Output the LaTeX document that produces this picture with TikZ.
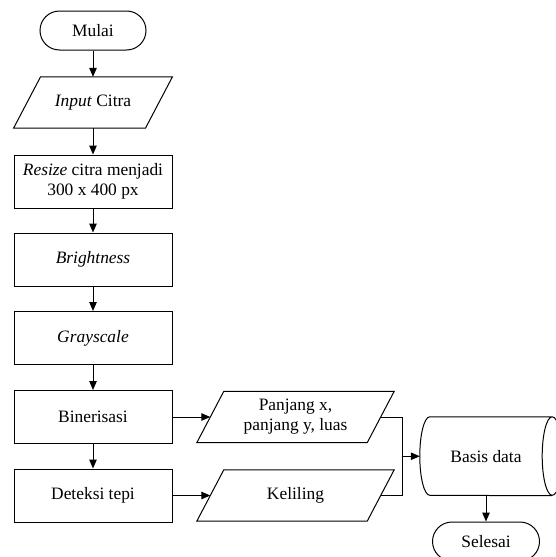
\documentclass[tikz,border=0pt]{standalone}
\usepackage{fontspec}
\setmainfont{Liberation Serif}
\usetikzlibrary{shapes.misc,arrows.meta}

% parallelogram outline drawn around a borderless node
\newcommand\ioshape[1]{%
  \draw[line] ([xshift=13.5pt]#1.north west) -- ([xshift=13.5pt]#1.north east)
    -- ([xshift=-13.5pt]#1.south east) -- ([xshift=-13.5pt]#1.south west) -- cycle;}

\begin{document}
\begin{tikzpicture}[x=1pt,y=-1pt,
  every node/.style={font=\fontsize{17.4}{20}\selectfont, inner sep=0pt, align=center},
  line/.style={line width=1pt},
  terminal/.style={rounded rectangle, draw, line width=1pt, minimum width=106pt, minimum height=39pt},
  process/.style={rectangle, draw, line width=1pt, minimum width=158pt, minimum height=53pt},
  iobody/.style={minimum height=51pt},
  flow/.style={line width=1pt, -{Triangle[length=9pt,width=7.5pt]}}
]
\useasboundingbox (0,0) rectangle (555,557);

% main column
\node[terminal] (start) at (93,30.5) {Mulai};
\node[iobody, minimum width=131.5pt] (input) at (93,102.5) {\textit{Input} Citra};
\ioshape{input}
\node[process] (resize) at (93,181.5) {\textit{Resize} citra menjadi\\300 x 400 px};
\node[process] (bright) at (93,259.5) {\textit{Brightness}};
\node[process] (gray) at (93,338) {\textit{Grayscale}};
\node[process] (biner) at (93,417) {Binerisasi};
\node[process] (edge) at (93,495.5) {Deteksi tepi};

% outputs
\node[iobody, minimum width=170pt] (dim) at (295.5,417) {Panjang x,\\panjang y, luas};
\ioshape{dim}
\node[iobody, minimum width=170pt] (keliling) at (295.5,495.5) {Keliling};
\ioshape{keliling}

% storage
\node[minimum width=132pt, minimum height=78.5pt] (db) at (486,456.25) {Basis data};
\draw[line] (db.north east) arc[start angle=90, end angle=450, x radius=10pt, y radius=39.25pt]
  -- ([xshift=10pt]db.north west) arc[start angle=90, end angle=270, x radius=10pt, y radius=39.25pt]
  -- (db.south east);
\node[terminal, minimum width=107pt] (finish) at (486,541.5) {Selesai};

% connectors
\draw[flow] (start.south) -- (input.north);
\draw[flow] (input.south) -- (resize.north);
\draw[flow] (resize.south) -- (bright.north);
\draw[flow] (bright.south) -- (gray.north);
\draw[flow] (gray.south) -- (biner.north);
\draw[flow] (biner.south) -- (edge.north);
\draw[flow] (biner.east) -- (dim.west);
\draw[flow] (edge.east) -- (keliling.west);
\coordinate (join) at (402,456.25);
\draw[line] (dim.east) -- (dim.east -| join) -- (keliling.east -| join) -- (keliling.east);
\draw[flow] (join) -- (db.west);
\draw[flow] (db.south) -- (finish.north);
\end{tikzpicture}
\end{document}
